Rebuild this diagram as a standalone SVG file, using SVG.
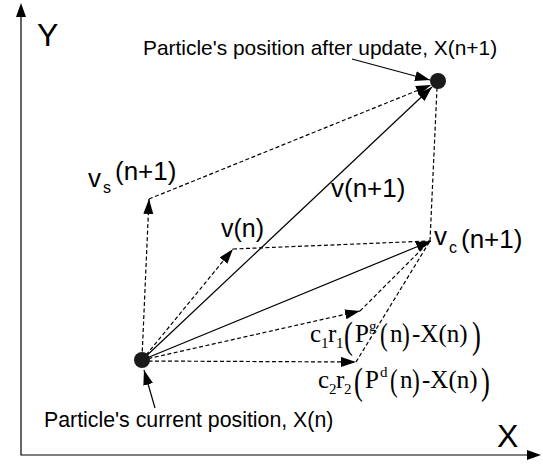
<svg xmlns="http://www.w3.org/2000/svg" width="543" height="466" viewBox="0 0 543 466">
<defs>
<marker id="ah" markerUnits="userSpaceOnUse" markerWidth="16" markerHeight="12" refX="15" refY="5" orient="auto">
<path d="M0,0 L15,5 L0,10 Z" fill="#000"/>
</marker>
<style>
.s{stroke:#000;stroke-width:1.2;fill:none}
.d{stroke:#000;stroke-width:1.2;fill:none;stroke-dasharray:4 2.5}
.sans{font-family:"Liberation Sans",Arial,sans-serif;fill:#000}
.ser{font-family:"Liberation Serif","Times New Roman",serif;fill:#000}
.dot{fill:#1a1a1a}
</style>
</defs>
<g id="axes">
<polyline class="s" points="21,14 21,455 530,455"/>
<path d="M21,3 L26,17 L16,17 Z" fill="#000"/>
<path d="M541,455 L527,450 L527,460 Z" fill="#000"/>
<text class="sans" x="37" y="46" font-size="32">Y</text>
<text class="sans" x="497" y="447" font-size="32">X</text>
</g>
<g id="connectors">
<line class="s" x1="142" y1="360" x2="432" y2="87" marker-end="url(#ah)"/>
<line class="s" x1="142" y1="360" x2="431" y2="241" marker-end="url(#ah)"/>
<line class="d" x1="142" y1="358" x2="149" y2="199" marker-end="url(#ah)"/>
<line class="d" x1="142" y1="360" x2="233" y2="249" marker-end="url(#ah)"/>
<line class="d" x1="142" y1="360" x2="360" y2="311" marker-end="url(#ah)"/>
<line class="d" x1="142" y1="361" x2="356" y2="362" marker-end="url(#ah)"/>
<line class="d" x1="149" y1="199" x2="431" y2="85" marker-end="url(#ah)"/>
<line class="d" x1="233" y1="249" x2="430" y2="241"/>
<line class="d" x1="430" y1="241" x2="437" y2="88"/>
<line class="d" x1="360" y1="311" x2="430" y2="241"/>
<line class="d" x1="356" y1="362" x2="430" y2="241"/>
<line class="s" x1="352" y1="59" x2="430" y2="80" marker-end="url(#ah)"/>
<line class="s" x1="155" y1="408" x2="144" y2="370" marker-end="url(#ah)"/>
</g>
<g id="current">
<circle class="dot" cx="142" cy="360" r="8"/>
<text class="sans" x="44" y="427" font-size="21.3">Particle's current position, X(n)</text>
</g>
<g id="update">
<circle class="dot" cx="438" cy="81" r="8"/>
<text class="sans" x="143" y="55" font-size="20.9">Particle's position after update, X(n+1)</text>
</g>
<g id="vs">
<text class="sans" font-size="26"><tspan x="88" y="187">v</tspan><tspan x="103" y="193" font-size="16">s</tspan><tspan x="115" y="180">(n+1)</tspan></text>
</g>
<g id="vn1">
<text class="sans" x="331" y="197" font-size="26">v(n+1)</text>
</g>
<g id="vn">
<text class="sans" x="221" y="237" font-size="25">v(n)</text>
</g>
<g id="vc">
<text class="sans" font-size="26"><tspan x="434" y="245">v</tspan><tspan x="449" y="253" font-size="16">c</tspan><tspan x="461" y="248">(n+1)</tspan></text>
</g>
<g id="c1">
<text class="ser" font-size="25"><tspan x="310" y="342">c</tspan><tspan x="321" y="348" font-size="15">1</tspan><tspan x="328" y="342">r</tspan><tspan x="336" y="348" font-size="15">1</tspan><tspan x="355" y="342">P</tspan><tspan x="369" y="331" font-size="15">g</tspan><tspan x="390" y="342">n</tspan><tspan x="412" y="342">-X(n)</tspan></text>
<text class="ser" font-size="38" transform="translate(344,348) scale(0.7,1)">(</text>
<text class="ser" font-size="31" transform="translate(380,345) scale(0.75,1)">(</text>
<text class="ser" font-size="31" transform="translate(402,345) scale(0.75,1)">)</text>
<text class="ser" font-size="38" transform="translate(472,348) scale(0.7,1)">)</text>
</g>
<g id="c2">
<text class="ser" font-size="25"><tspan x="318" y="388">c</tspan><tspan x="329" y="394" font-size="15">2</tspan><tspan x="336" y="388">r</tspan><tspan x="344" y="394" font-size="15">2</tspan><tspan x="365" y="388">P</tspan><tspan x="380" y="377" font-size="15">d</tspan><tspan x="400" y="388">n</tspan><tspan x="422" y="388">-X(n)</tspan></text>
<text class="ser" font-size="38" transform="translate(354,394) scale(0.7,1)">(</text>
<text class="ser" font-size="31" transform="translate(390,391) scale(0.75,1)">(</text>
<text class="ser" font-size="31" transform="translate(412,391) scale(0.75,1)">)</text>
<text class="ser" font-size="38" transform="translate(481,394) scale(0.7,1)">)</text>
</g>
</svg>
